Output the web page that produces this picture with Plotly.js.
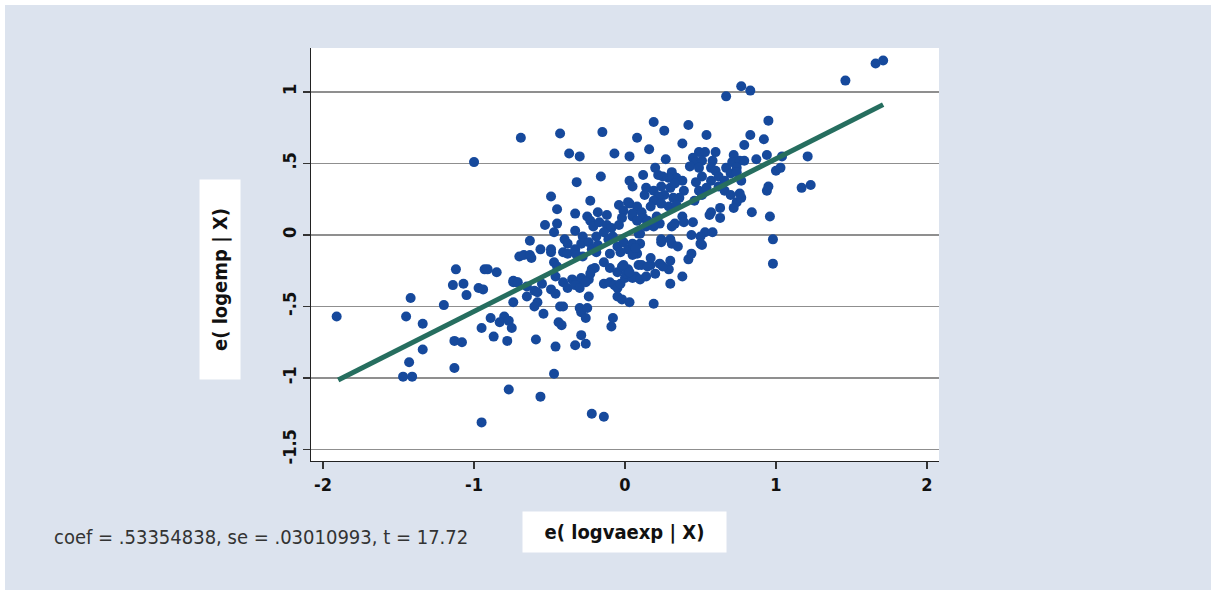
<!DOCTYPE html>
<html>
<head>
<meta charset="utf-8">
<script src="https://cdn.plot.ly/plotly-3.0.1.min.js"></script>
<style>
html,body{margin:0;padding:0;background:#ffffff;width:1211px;height:590px;overflow:hidden;}
#chart{position:absolute;left:5px;top:5px;width:1206px;height:585px;}
</style>
</head>
<body>
<div id="chart"></div>
<script>
// partial residuals: e(logvaexp | X)
var residX = [
-1.91,-1.42,-1.45,-1.34,-1.34,-1.43,-1.47,-1.41,-1.20,-1.12,-1.14,-1.07,-1.05,-1.13,-1.08,-1.13,-0.95,-0.93,-0.91,-0.85,
-0.97,-0.94,-0.95,-0.87,-0.89,-0.80,-0.83,-0.77,-0.75,-0.78,-0.77,-0.74,-0.72,-0.74,-0.70,-1.00,
-0.69,-0.43,-0.37,-0.30,-0.15,-0.32,-0.49,-0.45,-0.16,-0.07,0.03,-0.23,-0.33,-0.25,-0.18,-0.12,-0.04,0.02,-0.01,
-0.53,-0.45,-0.47,-0.33,-0.23,-0.21,-0.17,-0.12,-0.09,-0.04,-0.02,0.05,-0.63,-0.56,-0.49,-0.67,-0.63,
-0.40,-0.38,-0.41,-0.38,-0.33,-0.29,-0.28,-0.24,-0.22,-0.18,-0.19,-0.14,-0.11,-0.08,-0.05,-0.01,0.02,0.05,0.09,0.08,
-0.62,-0.49,-0.32,-0.28,-0.19,-0.10,-0.03,0.05,-0.47,-0.45,-0.22,-0.20,-0.14,-0.10,-0.05,-0.02,0.02,0.07,0.09,
-0.74,-0.71,-0.46,-0.41,-0.35,-0.32,-0.29,-0.24,-0.23,-0.55,-0.60,-0.65,-0.49,-0.46,-0.38,-0.33,-0.30,-0.26,
-0.14,-0.10,-0.07,-0.05,-0.03,0.00,-0.05,-0.02,0.03,-0.24,-0.65,-0.58,-0.60,-0.43,-0.41,-0.54,-0.30,-0.29,-0.25,-0.26,
-0.44,-0.42,-0.08,-0.09,-0.29,-0.33,-0.26,-0.46,-0.59,-0.47,-0.56,-0.22,-0.14,-0.58,0.19,
-0.01,0.01,0.05,0.10,0.14,0.17,0.20,0.23,0.29,0.30,0.38,0.42,0.44,0.30,
0.10,0.24,0.31,0.35,0.50,0.17,0.11,0.15,0.25,0.03,0.98,0.98,
0.77,0.83,0.67,0.19,0.26,0.42,0.95,0.08,0.16,0.38,0.54,0.79,0.83,0.92,0.27,
0.49,0.53,0.60,0.45,0.47,0.51,0.58,0.43,0.49,0.57,0.60,0.67,0.72,0.71,0.76,0.79,0.74,0.87,1.00,0.94,
0.20,0.12,0.31,0.34,0.38,0.29,0.25,0.22,0.51,0.57,0.62,0.66,0.70,0.74,0.77,
0.05,0.03,0.14,0.13,0.19,0.24,0.30,0.33,0.39,0.36,0.32,0.26,0.22,0.19,0.17,0.24,0.29,0.34,
0.47,0.49,0.51,0.46,0.54,0.62,0.66,0.70,0.74,0.77,0.76,0.72,0.63,0.57,0.56,0.63,0.84,0.96,0.95,0.94,
0.03,0.08,0.05,0.11,0.12,0.08,0.15,0.21,0.23,0.19,0.14,0.31,0.33,0.38,0.39,0.45,0.53,0.58,0.44,0.50,0.51,
0.24,0.30,0.10,0.07,
1.66,1.71,1.46,1.21,1.04,1.03,1.17,1.23
];
// partial residuals: e(logemp | X)
var residY = [
-0.57,-0.44,-0.57,-0.62,-0.80,-0.89,-0.99,-0.99,-0.49,-0.24,-0.35,-0.34,-0.42,-0.74,-0.75,-0.93,-1.31,-0.24,-0.24,-0.26,
-0.37,-0.38,-0.65,-0.71,-0.58,-0.57,-0.61,-0.60,-0.65,-0.74,-1.08,-0.32,-0.33,-0.47,-0.15,0.51,
0.68,0.71,0.57,0.55,0.72,0.37,0.27,0.18,0.41,0.57,0.55,0.24,0.15,0.13,0.16,0.14,0.21,0.23,0.17,
0.07,0.08,0.02,0.03,0.10,0.06,0.09,0.07,0.05,0.07,0.12,0.13,-0.04,-0.10,-0.10,-0.14,-0.14,
-0.03,-0.06,-0.12,-0.13,-0.10,-0.06,-0.01,-0.05,-0.10,-0.07,-0.01,0.02,-0.03,-0.01,-0.08,-0.05,-0.10,-0.06,0.01,-0.13,
-0.16,-0.12,-0.14,-0.15,-0.12,-0.13,-0.12,-0.14,-0.19,-0.22,-0.24,-0.23,-0.19,-0.23,-0.26,-0.22,-0.24,-0.29,-0.21,
-0.33,-0.33,-0.29,-0.33,-0.31,-0.33,-0.30,-0.31,-0.27,-0.34,-0.39,-0.36,-0.38,-0.41,-0.37,-0.35,-0.37,-0.33,
-0.34,-0.33,-0.35,-0.37,-0.34,-0.30,-0.43,-0.45,-0.47,-0.43,-0.43,-0.47,-0.50,-0.50,-0.50,-0.55,-0.51,-0.54,-0.51,-0.58,
-0.61,-0.63,-0.58,-0.64,-0.70,-0.77,-0.76,-0.78,-0.73,-0.97,-1.13,-1.25,-1.27,-0.40,-0.48,
-0.21,-0.27,-0.30,-0.31,-0.29,-0.21,-0.27,-0.20,-0.24,-0.34,-0.29,-0.17,-0.13,-0.18,
-0.06,-0.05,-0.06,-0.08,-0.06,-0.16,-0.21,-0.22,-0.22,-0.26,-0.03,-0.20,
1.04,1.01,0.97,0.79,0.73,0.77,0.80,0.68,0.60,0.64,0.70,0.63,0.70,0.67,0.53,
0.58,0.58,0.58,0.54,0.51,0.52,0.52,0.48,0.47,0.47,0.45,0.47,0.56,0.51,0.52,0.52,0.47,0.53,0.45,0.56,
0.47,0.42,0.44,0.40,0.38,0.40,0.41,0.42,0.41,0.38,0.41,0.38,0.43,0.44,0.38,
0.34,0.38,0.33,0.28,0.31,0.34,0.33,0.36,0.31,0.26,0.26,0.28,0.27,0.24,0.20,0.22,0.20,0.21,
0.37,0.31,0.28,0.24,0.33,0.34,0.31,0.28,0.23,0.26,0.29,0.19,0.19,0.16,0.14,0.12,0.16,0.13,0.34,0.31,
0.22,0.20,0.15,0.16,0.12,0.10,0.10,0.13,0.08,0.06,0.06,0.06,0.08,0.13,0.09,0.09,0.02,0.02,0.00,-0.01,-0.07,
-0.03,-0.03,0.01,-0.09,
1.20,1.22,1.08,0.55,0.55,0.47,0.33,0.35
];
// fitted line endpoints (coef = .53354838)
var fitX = [-1.90, 1.71];
var fitY = [-1.014, 0.912];

var yTickVals = [-1.5, -1, -0.5, 0, 0.5, 1];
var yTickText = ['-1.5', '-1', '-.5', '0', '.5', '1'];
var xTickVals = [-2, -1, 0, 1, 2];
var xTickText = ['-2', '-1', '0', '1', '2'];

var coefText = 'coef = .53354838, se = .03010993, t = 17.72';
var xTitle = 'e( logvaexp | X)';
var yTitle = 'e( logemp | X)';

var condBold = '"Liberation Sans Narrow", "DejaVu Sans Condensed", "Arial Narrow", sans-serif';

var traces = [
  {x: residX, y: residY, type: 'scatter', mode: 'markers',
   marker: {size: 10, color: '#16499c', line: {width: 0}}, hoverinfo: 'skip'},
  {x: fitX, y: fitY, type: 'scatter', mode: 'lines',
   line: {color: '#266e5f', width: 5}, hoverinfo: 'skip'}
];

var layout = {
  width: 1206, height: 585,
  margin: {l: 306, r: 272, t: 43, b: 129, pad: 0},
  paper_bgcolor: '#dce3ee',
  plot_bgcolor: '#ffffff',
  showlegend: false,
  xaxis: {
    range: [-2.08, 2.08], showgrid: false, zeroline: false,
    showline: true, linecolor: '#222', linewidth: 1.3,
    ticks: 'outside', ticklen: 7, tickwidth: 1.2, tickcolor: '#333',
    tickvals: xTickVals, ticktext: xTickText,
    tickfont: {family: condBold, size: 18, color: '#111', weight: 'bold'}
  },
  yaxis: {
    range: [-1.58, 1.308], showgrid: true, gridcolor: '#8f8f8f', gridwidth: 1.3,
    zeroline: false, showline: true, linecolor: '#222', linewidth: 1.3,
    ticks: 'outside', ticklen: 7, tickwidth: 1.2, tickcolor: '#333',
    tickvals: yTickVals, ticktext: yTickText, tickangle: -90,
    tickfont: {family: condBold, size: 18, color: '#111', weight: 'bold'}
  },
  annotations: [
    {text: '<b>' + yTitle + '</b>', xref: 'paper', yref: 'paper', x: -0.1449, y: 0.4383,
     xanchor: 'center', yanchor: 'middle', showarrow: false, textangle: -90,
     bgcolor: '#ffffff', width: 197, height: 38,
     font: {family: condBold, size: 20, color: '#111'}},
    {text: '<b>' + xTitle + '</b>', xref: 'paper', yref: 'paper', x: 0.4992, y: -0.1719,
     xanchor: 'center', yanchor: 'middle', showarrow: false,
     bgcolor: '#ffffff', width: 201, height: 38,
     font: {family: condBold, size: 20, color: '#111'}},
    {text: coefText, xref: 'paper', yref: 'paper', x: -0.4124, y: -0.184,
     xanchor: 'left', yanchor: 'middle', showarrow: false,
     font: {family: condBold, size: 20, color: '#333'}}
  ]
};

Plotly.newPlot('chart', traces, layout, {displayModeBar: false, staticPlot: true});
</script>
</body>
</html>
